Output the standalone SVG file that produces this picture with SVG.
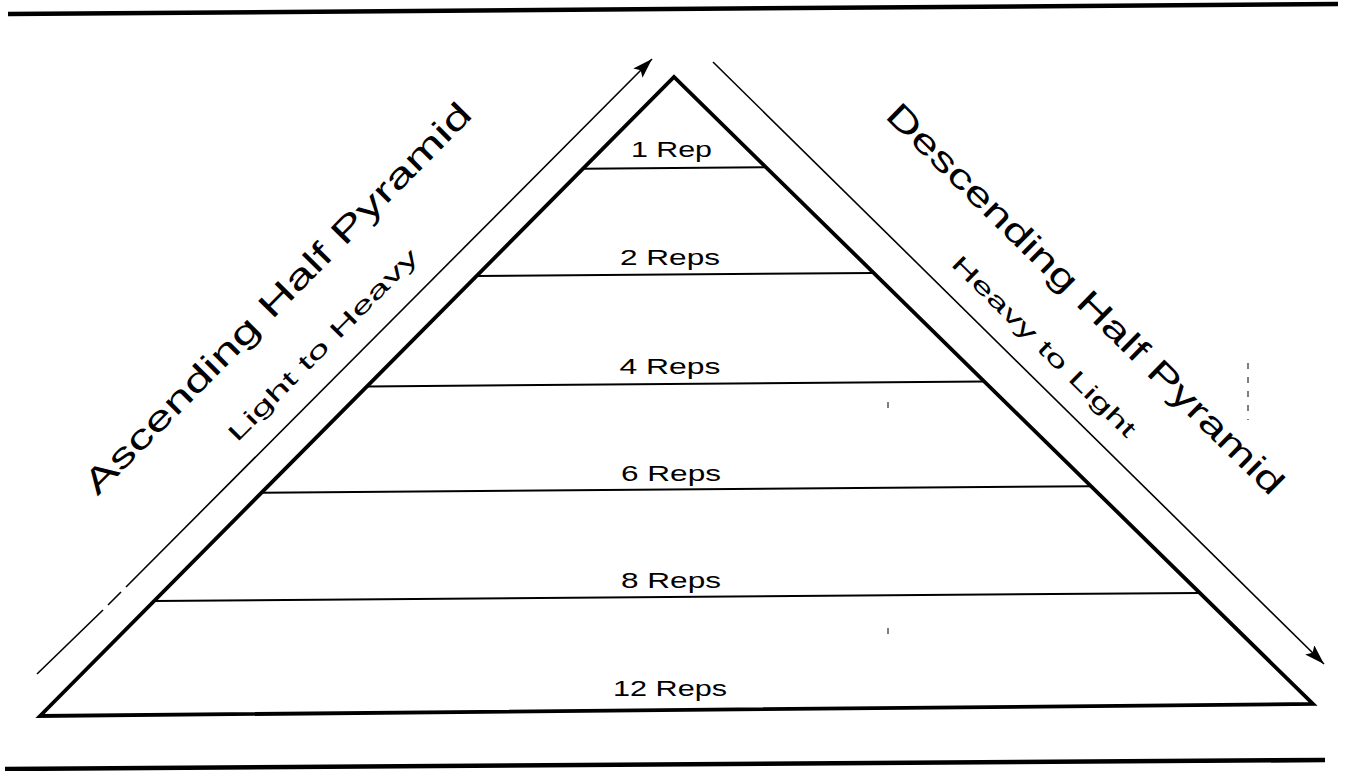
<svg xmlns="http://www.w3.org/2000/svg" width="1345" height="771" viewBox="0 0 1345 771">
  <style>
    .rule { stroke: #000; stroke-width: 4.5; fill: none; }
    .edge { stroke: #000; stroke-width: 3.8; fill: none; stroke-linejoin: miter; }
    .shelf { stroke: #000; stroke-width: 2; fill: none; }
    .flow { stroke: #000; stroke-width: 1.6; fill: none; }
    .speck { stroke: #000; stroke-width: 1; fill: none; }
    .lbl { font-family: "Liberation Sans", Arial, sans-serif; font-size: 22px; fill: #000; text-anchor: middle; }
    .side { font-family: "Liberation Sans", Arial, sans-serif; font-size: 23px; fill: #000; }
    .title { font-family: "Liberation Sans", Arial, sans-serif; font-size: 34px; fill: #000; }
  </style>
  <defs>
    <marker id="head" markerUnits="userSpaceOnUse" markerWidth="22" markerHeight="14" refX="20" refY="6.5" orient="auto">
      <path d="M0,0 L20,6.5 L0,13 L4,6.5 Z" fill="#000"/>
    </marker>
  </defs>

  <rect width="1345" height="771" fill="#fff"/>

  <!-- top and bottom page rules -->
  <line class="rule" x1="8" y1="14" x2="1338" y2="4"/>
  <line class="rule" x1="5" y1="769" x2="1325" y2="760"/>

  <!-- pyramid outline -->
  <g id="pyramid">
    <polygon class="edge" points="40,716 674,77 1313,704"/>
  </g>

  <!-- tiers, top to bottom -->
  <g id="tier-1">
    <line class="shelf" x1="583" y1="168.7" x2="766" y2="167.3"/>
    <text class="lbl" x="671.5" y="157" textLength="81" lengthAdjust="spacingAndGlyphs">1 Rep</text>
  </g>
  <g id="tier-2">
    <line class="shelf" x1="476.6" y1="276" x2="873.7" y2="273"/>
    <text class="lbl" x="670" y="265" textLength="100" lengthAdjust="spacingAndGlyphs">2 Reps</text>
  </g>
  <g id="tier-4">
    <line class="shelf" x1="367" y1="386.4" x2="984.3" y2="381.5"/>
    <text class="lbl" x="670" y="374" textLength="101" lengthAdjust="spacingAndGlyphs">4 Reps</text>
  </g>
  <g id="tier-6">
    <line class="shelf" x1="261.5" y1="492.7" x2="1091" y2="486.2"/>
    <text class="lbl" x="671" y="481" textLength="100" lengthAdjust="spacingAndGlyphs">6 Reps</text>
  </g>
  <g id="tier-8">
    <line class="shelf" x1="154" y1="601.1" x2="1199.8" y2="592.9"/>
    <text class="lbl" x="671" y="588" textLength="100" lengthAdjust="spacingAndGlyphs">8 Reps</text>
  </g>
  <g id="tier-12">
    <text class="lbl" x="670" y="696" textLength="114" lengthAdjust="spacingAndGlyphs">12 Reps</text>
  </g>

  <!-- direction arrows along the two faces -->
  <g id="connectors">
    <line class="flow" x1="37" y1="674" x2="103" y2="610"/>
    <line class="flow" x1="108" y1="605" x2="121" y2="592"/>
    <line class="flow" x1="126" y1="587" x2="652" y2="59" marker-end="url(#head)"/>
    <line class="flow" x1="713" y1="62" x2="1324" y2="664" marker-end="url(#head)"/>
  </g>

  <!-- face captions -->
  <g id="ascending">
    <text class="title" transform="translate(97.5,496.5) rotate(-45.3)" textLength="535" lengthAdjust="spacingAndGlyphs">Ascending Half Pyramid</text>
    <text class="side" transform="translate(237,443) rotate(-45.3)" textLength="260" lengthAdjust="spacingAndGlyphs">Light to Heavy</text>
  </g>
  <g id="descending">
    <text class="title" transform="translate(884,117) rotate(44.5)" textLength="542" lengthAdjust="spacingAndGlyphs">Descending Half Pyramid</text>
    <text class="side" transform="translate(950,265) rotate(44.5)" textLength="248" lengthAdjust="spacingAndGlyphs">Heavy to Light</text>
  </g>

  <!-- small print marks -->
  <g id="marks">
    <line class="speck" x1="888" y1="402" x2="888" y2="408"/>
    <line class="speck" x1="888" y1="628" x2="888" y2="634"/>
    <line class="speck" x1="1248" y1="363" x2="1248" y2="420" stroke-dasharray="6,8"/>
  </g>
</svg>
